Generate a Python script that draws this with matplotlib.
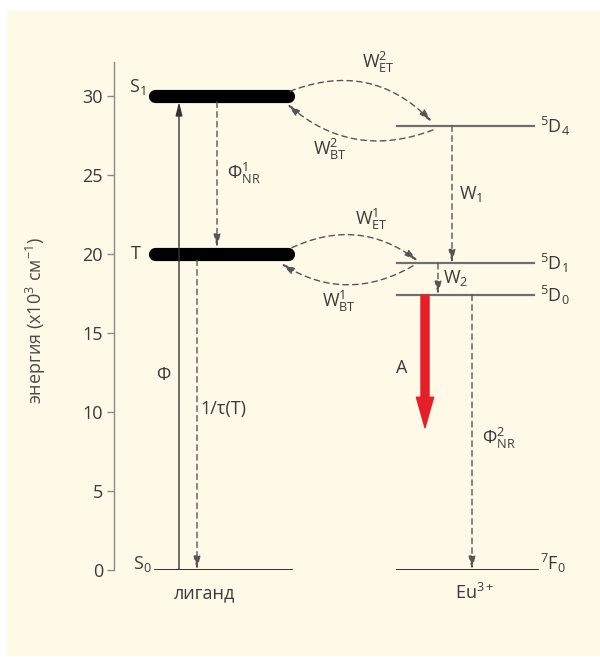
import matplotlib
matplotlib.use('Agg')
import matplotlib.pyplot as plt
from matplotlib.patches import Rectangle, FancyArrowPatch

# energy levels (10^3 cm^-1)
ligand_levels = ['S0', 'T', 'S1']
ligand_energy = [0, 20, 30]
eu_levels = ['7F0', '5D0', '5D1', '5D4']
eu_energy = [0, 17.4, 19.4, 28.1]
a_arrow_end = 9.0          # where the red emission arrow stops
y_ticks = [0, 5, 10, 15, 20, 25, 30]

lig = dict(zip(ligand_levels, ligand_energy))
eu = dict(zip(eu_levels, eu_energy))

plt.rcParams['font.family'] = ['Open Sans', 'DejaVu Sans']
plt.rcParams['mathtext.fontset'] = 'custom'
plt.rcParams['mathtext.rm'] = 'Open Sans'
plt.rcParams['mathtext.it'] = 'Open Sans'

TXT = '#3a3a3a'
GREY = '#6f6f6f'
DASH = '#555555'
RED = '#e61e28'

fig = plt.figure(figsize=(6, 6.57), dpi=100)
# cream panel behind the diagram
fig.add_artist(Rectangle((7 / 600, 1 / 657), 593 / 600, 645 / 657,
                         transform=fig.transFigure, facecolor='#fffae8',
                         edgecolor='none', zorder=-10))

# axes: x in pixel units, y in energy
ax = fig.add_axes([114 / 600, 87 / 657, 486 / 600, 508 / 657])
ax.set_zorder(1)
ax.set_facecolor('none')
ax.set_xlim(114, 600)
ax.set_ylim(0, 32.15)
for s in ['top', 'right', 'bottom']:
    ax.spines[s].set_visible(False)
ax.spines['left'].set_color('#8a8a8a')
ax.spines['left'].set_linewidth(1.0)
ax.set_xticks([])
ax.set_yticks(y_ticks)
ax.tick_params(axis='y', length=5, width=1, color='#8a8a8a', labelsize=13,
               labelcolor=TXT, pad=3)
ax.set_ylabel('энергия (x10$^{3}$ см$^{-1}$)', fontsize=13, color='#4a4a4a')
ax.yaxis.set_label_coords(-0.136, 0.49)

# ligand levels
lig_x = (154.5, 287.5)
for name in ['T', 'S1']:
    ax.plot(lig_x, [lig[name]] * 2, color='black', lw=9.5,
            solid_capstyle='round', zorder=3)
ax.plot((155, 292), [lig['S0']] * 2, color='#222222', lw=1.3)

# Eu levels
for name in ['5D0', '5D1', '5D4']:
    ax.plot((397, 534), [eu[name]] * 2, color=GREY, lw=1.6)
ax.plot((397, 538), [eu['7F0']] * 2, color='#222222', lw=1.3)


def arrow(x0, y0, x1, y1, dashed=True, rad=0.0, color=DASH):
    style = '-|>,head_length=0.8,head_width=0.2'
    p = FancyArrowPatch((x0, y0), (x1, y1), arrowstyle=style,
                        connectionstyle=f'arc3,rad={rad}',
                        mutation_scale=10, shrinkA=0, shrinkB=0,
                        lw=1.0, color=color,
                        linestyle=(0, (4, 3)) if dashed else '-',
                        zorder=4)
    ax.add_patch(p)


half_bar = 0.38   # half thickness of the heavy bars in energy units

# vertical transitions
arrow(179, lig['S0'], 179, lig['S1'] - half_bar, dashed=False, color='#333333')
arrow(217, lig['S1'] - half_bar, 217, lig['T'] + half_bar)
arrow(197, lig['T'] - half_bar, 197, lig['S0'])
arrow(452, eu['5D4'], 452, eu['5D1'])
arrow(438, eu['5D1'], 438, eu['5D0'])
arrow(472, eu['5D0'], 472, eu['7F0'])

# red emission arrow
ax.annotate('', xy=(425, a_arrow_end), xytext=(425, eu['5D0']),
            arrowprops=dict(arrowstyle='simple,head_length=1.1,head_width=0.62,tail_width=0.29',
                            mutation_scale=20, color=RED, shrinkA=0, shrinkB=0),
            zorder=5)

# energy transfer / back transfer curves
arrow(290, lig['S1'] + 0.3, 432, eu['5D4'] + 0.25, rad=-0.33)
arrow(433, eu['5D4'] - 0.25, 287, lig['S1'] - 0.5, rad=-0.3)
arrow(292, lig['T'] + 0.4, 418, eu['5D1'] + 0.15, rad=-0.3)
arrow(413, eu['5D1'] - 0.15, 281, lig['T'] - 0.6, rad=-0.3)

# labels
kw = dict(fontsize=13, color=TXT, va='center')
ax.text(146, lig['S1'] + 0.55, r'$\mathrm{S}_{1}$', ha='right', **kw)
ax.text(141, lig['T'], 'T', ha='right', **kw)
ax.text(152, lig['S0'] + 0.4, r'$\mathrm{S}_{0}$', ha='right', **kw)
ax.text(540, eu['5D4'], r'${}^{5}\mathrm{D}_{4}$', ha='left', **kw)
ax.text(540, eu['5D1'], r'${}^{5}\mathrm{D}_{1}$', ha='left', **kw)
ax.text(540, eu['5D0'], r'${}^{5}\mathrm{D}_{0}$', ha='left', **kw)
ax.text(540, eu['7F0'] + 0.4, r'${}^{7}\mathrm{F}_{0}$', ha='left', **kw)

ax.text(227, 25.1, r'$\mathrm{Φ}^{1}_{\mathrm{NR}}$', ha='left', **kw)
ax.text(163, 12.35, 'Φ', ha='center', **kw)
ax.text(200, 10.2, '1/τ(T)', ha='left', **kw)
ax.text(362, 32.1, r'$\mathrm{W}^{2}_{\mathrm{ET}}$', ha='left', **kw)
ax.text(313, 26.6, r'$\mathrm{W}^{2}_{\mathrm{BT}}$', ha='left', **kw)
ax.text(459, 23.8, r'$\mathrm{W}_{1}$', ha='left', **kw)
ax.text(355, 22.2, r'$\mathrm{W}^{1}_{\mathrm{ET}}$', ha='left', **kw)
ax.text(443, 18.5, r'$\mathrm{W}_{2}$', ha='left', **kw)
ax.text(322, 17.0, r'$\mathrm{W}^{1}_{\mathrm{BT}}$', ha='left', **kw)
ax.text(402, 12.8, 'A', ha='center', **kw)
ax.text(482, 8.3, r'$\mathrm{Φ}^{2}_{\mathrm{NR}}$', ha='left', **kw)

ax.text(205, -1.45, 'лиганд', ha='center', **kw)
ax.text(475, -1.45, r'Eu$^{3+}$', ha='center', **kw)

fig.savefig('out.png', dpi=100, facecolor='white')
